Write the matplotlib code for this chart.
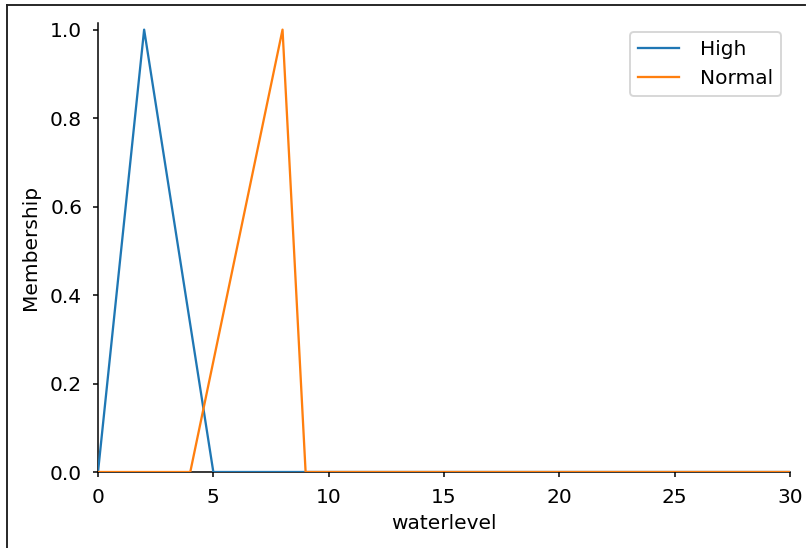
import matplotlib
matplotlib.use('Agg')
import matplotlib.pyplot as plt
from matplotlib.lines import Line2D

# membership function break points
high_x = [0, 2, 5, 30]
high_y = [0.0, 1.0, 0.0, 0.0]
normal_x = [0, 4, 8, 9, 30]
normal_y = [0.0, 0.0, 1.0, 0.0, 0.0]
labels = ['High', 'Normal']
x_ticks = [0, 5, 10, 15, 20, 25, 30]
y_ticks = [0.0, 0.2, 0.4, 0.6, 0.8, 1.0]

DPI = 137
W, H = 807, 548

plt.rcParams['font.size'] = 10.6
plt.rcParams['xtick.major.size'] = 2.8
plt.rcParams['ytick.major.size'] = 2.8
plt.rcParams['xtick.major.pad'] = 5.5
plt.rcParams['ytick.major.pad'] = 5.5

fig = plt.figure(figsize=(W / DPI, H / DPI), dpi=DPI)
ax = fig.add_axes([98 / W, 1 - 472 / H, (790 - 98) / W, (472 - 23) / H])

# drawn above the spines so the zero stretches stay visible
ax.plot(high_x, high_y, label=labels[0], lw=1.2, zorder=3)
ax.plot(normal_x, normal_y, label=labels[1], lw=1.2, zorder=3)

ax.set_xlim(0, 30)
ax.set_ylim(0, 1.015)
ax.set_xticks(x_ticks)
ax.set_yticks(y_ticks)
ax.set_xlabel('waterlevel', labelpad=4)
ax.set_ylabel('Membership', labelpad=5.5)
ax.spines['top'].set_visible(False)
ax.spines['right'].set_visible(False)
ax.legend(loc='upper right', handletextpad=1.05, borderaxespad=0.45)

# screenshot frame (left and top edges only)
fig.add_artist(Line2D([7 / W, 7 / W], [0, 1 - 5 / H], transform=fig.transFigure,
                      color='#222222', lw=1.0))
fig.add_artist(Line2D([7 / W, 805 / W], [1 - 5 / H, 1 - 5 / H], transform=fig.transFigure,
                      color='#222222', lw=1.0))

fig.savefig('out.png', dpi=DPI)
